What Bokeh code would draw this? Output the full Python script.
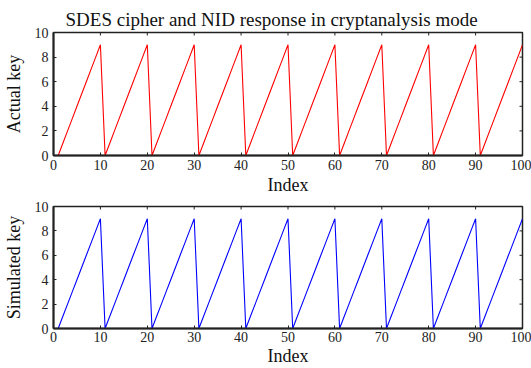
import math
from bokeh.plotting import figure
from bokeh.layouts import column
from bokeh.models import FixedTicker, Range1d
from bokeh.embed import file_html
from bokeh.resources import INLINE

index = list(range(1, 101))
actual_key = [0, 1, 2, 3, 4, 5, 6, 7, 8, 9,
              0, 1, 2, 3, 4, 5, 6, 7, 8, 9,
              0, 1, 2, 3, 4, 5, 6, 7, 8, 9,
              0, 1, 2, 3, 4, 5, 6, 7, 8, 9,
              0, 1, 2, 3, 4, 5, 6, 7, 8, 9,
              0, 1, 2, 3, 4, 5, 6, 7, 8, 9,
              0, 1, 2, 3, 4, 5, 6, 7, 8, 9,
              0, 1, 2, 3, 4, 5, 6, 7, 8, 9,
              0, 1, 2, 3, 4, 5, 6, 7, 8, 9,
              0, 1, 2, 3, 4, 5, 6, 7, 8, 9]
simulated_key = [0, 1, 2, 3, 4, 5, 6, 7, 8, 9,
                 0, 1, 2, 3, 4, 5, 6, 7, 8, 9,
                 0, 1, 2, 3, 4, 5, 6, 7, 8, 9,
                 0, 1, 2, 3, 4, 5, 6, 7, 8, 9,
                 0, 1, 2, 3, 4, 5, 6, 7, 8, 9,
                 0, 1, 2, 3, 4, 5, 6, 7, 8, 9,
                 0, 1, 2, 3, 4, 5, 6, 7, 8, 9,
                 0, 1, 2, 3, 4, 5, 6, 7, 8, 9,
                 0, 1, 2, 3, 4, 5, 6, 7, 8, 9,
                 0, 1, 2, 3, 4, 5, 6, 7, 8, 9]
x_ticks = [0, 10, 20, 30, 40, 50, 60, 70, 80, 90, 100]
y_ticks = [0, 2, 4, 6, 8, 10]
x_min, x_max = 0, 100
y_min, y_max = 0, 10

FONT = "Liberation Serif"


def style(p, ylabel, label_standoff, axis_standoff):
    p.x_range = Range1d(x_min, x_max)
    p.y_range = Range1d(y_min, y_max)
    p.grid.visible = False
    p.outline_line_color = "#222222"
    p.outline_line_width = 1.5
    p.background_fill_color = "white"
    p.border_fill_color = "white"
    for ax in (p.xaxis[0], p.yaxis[0]):
        ax.major_tick_in = 3
        ax.major_tick_out = 0
        ax.major_tick_line_color = "#222222"
        ax.minor_tick_line_color = None
        ax.axis_line_color = "#222222"
        ax.axis_line_width = 2
        ax.major_label_text_font = FONT
        ax.major_label_text_font_size = "14px"
        ax.major_label_text_color = "#222222"
        ax.axis_label_text_font = FONT
        ax.axis_label_text_font_size = "18px"
        ax.axis_label_text_font_style = "normal"
        ax.axis_label_text_color = "#111111"
    p.xaxis[0].ticker = FixedTicker(ticks=x_ticks)
    p.yaxis[0].ticker = FixedTicker(ticks=y_ticks)
    p.xaxis[0].axis_label = "Index"
    p.xaxis[0].major_label_standoff = label_standoff
    p.xaxis[0].axis_label_standoff = axis_standoff
    p.yaxis[0].axis_label = ylabel
    p.yaxis[0].major_label_standoff = 5
    p.yaxis[0].axis_label_standoff = 8
    # mirrored inward ticks on the right and top edges (clipped to the frame)
    inner_y = y_ticks[1:-1]
    inner_x = x_ticks[1:-1]
    p.scatter([x_max] * len(inner_y), inner_y, marker="dash", size=6,
              line_color="#222222", line_width=1)
    p.scatter(inner_x, [y_max] * len(inner_x), marker="dash", size=6,
              angle=math.pi / 2, line_color="#222222", line_width=1)


p1 = figure(width=531, height=197, output_backend="svg", toolbar_location=None,
            min_border_left=50, min_border_right=9, min_border_top=32, min_border_bottom=40)
p1.line(index, actual_key, line_color="#ff0000", line_width=1.1)
style(p1, "Actual key", 4, 2)
p1.title.text = "SDES cipher and NID response in cryptanalysis mode"
p1.title.text_font = FONT
p1.title.text_font_size = "19px"
p1.title.text_font_style = "normal"
p1.title.text_color = "#111111"
p1.title.align = "left"
p1.title.offset = 12
p1.title.standoff = 6

p2 = figure(width=531, height=171, output_backend="svg", toolbar_location=None,
            min_border_left=50, min_border_right=9, min_border_top=9, min_border_bottom=38)
p2.line(index, simulated_key, line_color="#0000ff", line_width=1.1)
style(p2, "Simulated key", 3, 1)

layout = column(p1, p2, spacing=0)
open("out.html", "w").write(file_html(layout, INLINE))
